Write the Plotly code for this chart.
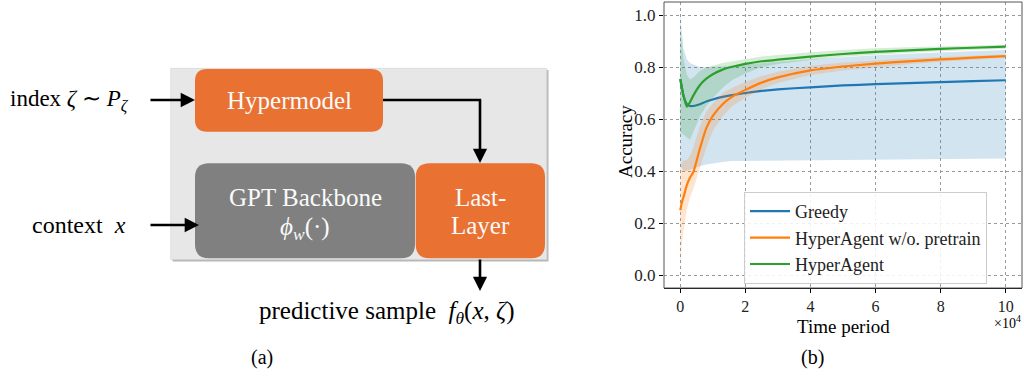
import plotly.graph_objects as go

# ---------------- data ----------------
t = [0, 500, 1000, 2000, 3000, 4000, 6000, 8000, 10000, 13000, 16000, 20000,
     25000, 30000, 40000, 50000, 60000, 70000, 80000, 90000, 100000]

greedy_mean = [0.754, 0.720, 0.688, 0.658, 0.650, 0.650, 0.657, 0.667, 0.675, 0.685, 0.692, 0.700,
               0.708, 0.714, 0.722, 0.729, 0.734, 0.738, 0.742, 0.746, 0.749]
greedy_up = [1.000, 0.930, 0.870, 0.830, 0.815, 0.810, 0.800, 0.800, 0.800, 0.802, 0.805, 0.810,
             0.815, 0.820, 0.830, 0.838, 0.845, 0.851, 0.856, 0.861, 0.865]
greedy_lo = [0.420, 0.410, 0.400, 0.400, 0.405, 0.410, 0.418, 0.425, 0.430, 0.435, 0.438, 0.440,
             0.441, 0.442, 0.443, 0.444, 0.445, 0.446, 0.447, 0.447, 0.448]

nopre_mean = [0.249, 0.280, 0.300, 0.345, 0.375, 0.395, 0.485, 0.565, 0.612, 0.657, 0.686, 0.712,
              0.740, 0.760, 0.787, 0.802, 0.813, 0.822, 0.829, 0.836, 0.842]
nopre_up = [0.420, 0.430, 0.440, 0.440, 0.460, 0.490, 0.570, 0.630, 0.660, 0.700, 0.720, 0.742,
            0.765, 0.782, 0.805, 0.817, 0.826, 0.833, 0.838, 0.843, 0.848]
nopre_lo = [0.030, 0.120, 0.170, 0.250, 0.300, 0.330, 0.410, 0.490, 0.555, 0.610, 0.650, 0.682,
            0.715, 0.738, 0.769, 0.787, 0.800, 0.811, 0.820, 0.829, 0.836]

hyper_mean = [0.754, 0.720, 0.690, 0.647, 0.665, 0.690, 0.730, 0.755, 0.772, 0.790, 0.801, 0.812,
              0.822, 0.828, 0.840, 0.850, 0.858, 0.864, 0.870, 0.874, 0.878]
hyper_up = [0.950, 0.890, 0.830, 0.770, 0.752, 0.760, 0.785, 0.798, 0.805, 0.815, 0.822, 0.830,
            0.840, 0.846, 0.857, 0.865, 0.872, 0.876, 0.880, 0.883, 0.886]
hyper_lo = [0.550, 0.545, 0.540, 0.530, 0.520, 0.550, 0.610, 0.650, 0.680, 0.720, 0.750, 0.775,
            0.800, 0.812, 0.827, 0.839, 0.848, 0.855, 0.861, 0.866, 0.870]

series_names = ["Greedy", "HyperAgent w/o. pretrain", "HyperAgent"]
series_colors = ["#1f77b4", "#ff7f0e", "#2ca02c"]
band_colors = ["rgba(31,119,180,0.2)", "rgba(255,127,14,0.2)", "rgba(44,160,44,0.2)"]

x_tickvals = [0, 20000, 40000, 60000, 80000, 100000]
x_ticktext = ["0", "2", "4", "6", "8", "10"]
y_tickvals = [0.0, 0.2, 0.4, 0.6, 0.8, 1.0]
y_ticktext = ["0.0", "0.2", "0.4", "0.6", "0.8", "1.0"]

SERIF = "Liberation Serif"
W, H = 1024, 376

fig = go.Figure()

means = [greedy_mean, nopre_mean, hyper_mean]
ups = [greedy_up, nopre_up, hyper_up]
los = [greedy_lo, nopre_lo, hyper_lo]

for name, col, bcol, m, u, l in zip(series_names, series_colors, band_colors, means, ups, los):
    fig.add_trace(go.Scatter(x=t + t[::-1], y=u + l[::-1], fill="toself", fillcolor=bcol,
                             line=dict(width=0), mode="lines", hoverinfo="skip", showlegend=False))
    fig.add_trace(go.Scatter(x=t, y=m, mode="lines", name=name,
                             line=dict(color=col, width=2.2, shape="spline", smoothing=0.5)))

# ---------------- helpers for the diagram (pixel -> paper) ----------------
def px(x):
    return x / W


def py(y):
    return 1 - y / H


def rrect(x0, y0, x1, y1, r):
    pts = [
        ("M", [(x0 + r, y0)]), ("L", [(x1 - r, y0)]), ("Q", [(x1, y0), (x1, y0 + r)]),
        ("L", [(x1, y1 - r)]), ("Q", [(x1, y1), (x1 - r, y1)]), ("L", [(x0 + r, y1)]),
        ("Q", [(x0, y1), (x0, y1 - r)]), ("L", [(x0, y0 + r)]), ("Q", [(x0, y0), (x0 + r, y0)]),
    ]
    s = ""
    for cmd, ps in pts:
        s += cmd + " " + " ".join(f"{px(a):.5f},{py(b):.5f}" for a, b in ps) + " "
    return s + "Z"


shapes = []
# gray background panel with shadow
shapes.append(dict(type="rect", xref="paper", yref="paper", x0=px(172.5), x1=px(548.5),
                   y0=py(261.5), y1=py(70), fillcolor="#b8b8b8", line=dict(width=0), layer="below"))
shapes.append(dict(type="rect", xref="paper", yref="paper", x0=px(170.7), x1=px(546.7),
                   y0=py(259.5), y1=py(68.3), fillcolor="#e7e7e7", line=dict(color="#d4d4d4", width=0.6),
                   layer="below"))
ORANGE = "#e97132"
shapes.append(dict(type="path", xref="paper", yref="paper", path=rrect(195, 69, 383, 131.7, 12),
                   fillcolor=ORANGE, line=dict(width=0), layer="below"))
shapes.append(dict(type="path", xref="paper", yref="paper", path=rrect(195, 163.3, 415, 258.3, 14),
                   fillcolor="#808080", line=dict(width=0), layer="below"))
shapes.append(dict(type="path", xref="paper", yref="paper", path=rrect(415.7, 163.3, 545, 258.3, 14),
                   fillcolor=ORANGE, line=dict(width=0), layer="below"))
# connector line hypermodel -> corner
shapes.append(dict(type="line", xref="paper", yref="paper", x0=px(383), y0=py(100), x1=px(481.2), y1=py(100),
                   line=dict(color="black", width=2.6)))
# frame of the chart (top/right/left), bottom drawn by axis line
shapes.append(dict(type="rect", xref="x domain", yref="y domain", x0=0, x1=1, y0=0, y1=1,
                   line=dict(color="#555555", width=1), layer="above"))

annotations = []


def arrow(x_head, y_head, x_tail, y_tail):
    annotations.append(dict(x=px(x_head), y=py(y_head), xref="paper", yref="paper", text="",
                            showarrow=True, ax=x_tail - x_head, ay=y_tail - y_head, axref="pixel",
                            ayref="pixel", arrowhead=2, arrowsize=1.1, arrowwidth=2.6,
                            arrowcolor="black", standoff=0))


arrow(195, 100, 149, 100)
arrow(199, 225, 149, 225)
arrow(480, 163, 480, 99)
arrow(480, 291, 480, 258)


def txt(x, y, s, size, color="black", xanchor="center", textangle=0):
    annotations.append(dict(x=px(x), y=py(y), xref="paper", yref="paper", text=s, showarrow=False,
                            xanchor=xanchor, yanchor="middle", textangle=textangle,
                            font=dict(family=SERIF, size=size, color=color)))


WHITE = "#fafafa"
txt(289, 100, "Hypermodel", 25, WHITE)
txt(305, 197, "GPT Backbone", 25, WHITE)
txt(305, 228, "<i>ϕ</i><sub><i>w</i></sub>(·)", 25, WHITE)
txt(480, 198, "Last-", 25, WHITE)
txt(480, 225, "Layer", 25, WHITE)
txt(131, 100, "index <i>ζ</i> ∼ <i>P</i><sub><i>ζ</i></sub>", 23, xanchor="right")
txt(128, 225, "context  <i>x</i>", 24, xanchor="right")
txt(386, 312, "predictive sample  <i>f</i><sub><i>θ</i></sub>(<i>x</i>, <i>ζ</i>)", 25)
txt(262, 357, "(a)", 20)
txt(812, 357, "(b)", 20)
# chart axis titles
txt(843, 326, "Time period", 19)
txt(625, 142, "Accuracy", 19, textangle=-90)
txt(1007, 322, "×10<sup>4</sup>", 14)

fig.update_layout(
    width=W, height=H, margin=dict(l=0, r=0, t=0, b=0),
    paper_bgcolor="white", plot_bgcolor="white",
    shapes=shapes, annotations=annotations,
    font=dict(family=SERIF, size=16, color="#222222"),
    legend=dict(x=px(744), y=py(192), xanchor="left", yanchor="top",
                bgcolor="rgba(255,255,255,0.85)", bordercolor="#cccccc", borderwidth=1,
                font=dict(family=SERIF, size=18, color="#222222"), tracegroupgap=0,
                itemwidth=40),
    xaxis=dict(domain=[px(664), px(1022)], range=[-5000, 105000], tickvals=x_tickvals,
               ticktext=x_ticktext, ticks="outside", ticklen=4, tickcolor="black",
               showline=True, linecolor="black", linewidth=1.3, showgrid=True,
               gridcolor="#9a9a9a", griddash="dot", gridwidth=1, zeroline=False,
               ticklabelstandoff=0,
               tickfont=dict(family=SERIF, size=16, color="#222222")),
    yaxis=dict(domain=[1 - 288 / H, 1 - 2 / H], range=[-0.05, 1.05], tickvals=y_tickvals,
               ticktext=y_ticktext, ticks="outside", ticklen=4, tickcolor="black",
               showline=False, showgrid=True, gridcolor="#9a9a9a", griddash="dot",
               gridwidth=1, zeroline=False,
               tickfont=dict(family=SERIF, size=17, color="#222222")),
)

fig.write_html("out.html")
